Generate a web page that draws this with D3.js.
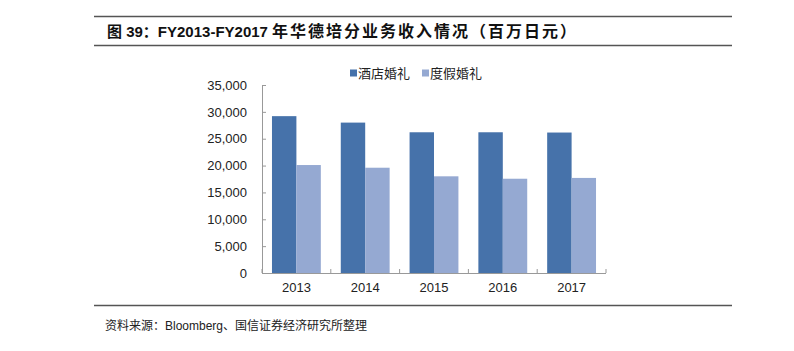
<!DOCTYPE html>
<html>
<head>
    <meta charset="utf-8">
    <title>FY2013-FY2017 年华德培分业务收入情况</title>
    <script src="https://d3js.org/d3.v7.min.js"></script>
    <style>
        body {
            margin: 0;
            background: #fff;
            font-family: "Liberation Sans", Arial, "Noto Sans CJK SC", sans-serif;
        }
        .title {
            font-size: 15px;
            font-weight: bold;
            fill: #111;
        }
        .source {
            font-size: 12px;
            fill: #222;
        }
        .axis text {
            font-size: 13px;
            fill: #222;
        }
        .axis path, .axis line {
            stroke: #999;
        }
        .legend text {
            font-size: 13px;
            fill: #222;
        }
    </style>
</head>
<body>
    <div id="chart"></div>

    <script>
        const years = ["2013", "2014", "2015", "2016", "2017"];
        const seriesNames = ["酒店婚礼", "度假婚礼"];
        const hotel = [29200, 28000, 26200, 26200, 26150];
        const resort = [20100, 19600, 18000, 17550, 17700];
        const yTicks = [0, 5000, 10000, 15000, 20000, 25000, 30000, 35000];

        const W = 794, H = 351;
        const margin = { top: 85, right: 188, bottom: 78, left: 262 },
              width = W - margin.left - margin.right,
              height = H - margin.top - margin.bottom;

        const svg = d3.select("#chart")
                      .append("svg")
                      .attr("width", W)
                      .attr("height", H);

        // header and footer rules
        const rule = (y) => svg.append("line")
            .attr("x1", 94).attr("x2", 732)
            .attr("y1", y).attr("y2", y)
            .attr("stroke", "#555").attr("stroke-width", 1.3);
        rule(16.5);
        rule(45.5);
        rule(305.5);

        const title = svg.append("text")
           .attr("class", "title")
           .attr("x", 107)
           .attr("y", 36.5);
        title.append("tspan").text("图 39：FY2013-FY2017 ");
        // the CJK part is set wider in the original
        title.append("tspan")
             .style("font-size", "16px")
             .style("letter-spacing", "2px")
             .text("年华德培分业务收入情况（百万日元）");

        svg.append("text")
           .attr("class", "source")
           .attr("x", 105)
           .attr("y", 330)
           .text("资料来源：Bloomberg、国信证券经济研究所整理");

        const g = svg.append("g")
                     .attr("transform", `translate(${margin.left},${margin.top})`);

        const color = d3.scaleOrdinal().domain(seriesNames).range(["#4672aa", "#95a9d2"]);

        const x0 = d3.scaleBand().domain(years).range([0, width]).paddingInner(0.29).paddingOuter(0.145);
        const x1 = d3.scaleBand().domain(seriesNames).range([0, x0.bandwidth()]);

        const y = d3.scaleLinear().domain([0, 35000]).range([height, 0]);

        const rows = years.map((yr, i) => ({ year: yr, values: [hotel[i], resort[i]] }));

        g.selectAll(".group")
         .data(rows)
         .enter()
         .append("g")
         .attr("transform", d => `translate(${x0(d.year)},0)`)
         .selectAll("rect")
         .data(d => d.values.map((v, j) => ({ key: seriesNames[j], value: v })))
         .enter()
         .append("rect")
         .attr("x", d => x1(d.key))
         .attr("y", d => y(d.value))
         .attr("width", x1.bandwidth())
         .attr("height", d => height - y(d.value))
         .attr("fill", d => color(d.key));

        // y axis, ticks pointing inward
        const yAxis = g.append("g")
         .attr("class", "axis")
         .call(d3.axisRight(y).tickValues(yTicks).tickSize(4).tickFormat(d3.format(",")));
        yAxis.selectAll("text").attr("x", -15).attr("text-anchor", "end");

        // x axis, ticks at category edges pointing up
        const xAxis = g.append("g")
         .attr("class", "axis")
         .attr("transform", `translate(0,${height})`)
         .call(d3.axisBottom(x0).tickSize(0).tickPadding(10));
        xAxis.selectAll("text").attr("dy", "0.71em");
        const step = width / years.length;
        xAxis.selectAll(".edge")
         .data(d3.range(years.length + 1))
         .enter()
         .append("line")
         .attr("x1", i => i * step).attr("x2", i => i * step)
         .attr("y1", 0).attr("y2", -4)
         .attr("stroke", "#999");
        xAxis.select(".domain").attr("d", `M0,0.5H${width}`);

        // legend
        const legend = svg.append("g").attr("class", "legend")
                          .attr("transform", "translate(350,73)");
        const items = legend.selectAll("g")
                            .data(seriesNames)
                            .enter()
                            .append("g")
                            .attr("transform", (d, i) => `translate(${i * 72},0)`);
        items.append("rect")
             .attr("x", 0).attr("y", -3.5)
             .attr("width", 7).attr("height", 7)
             .attr("fill", d => color(d));
        items.append("text")
             .attr("x", 8)
             .attr("dy", "0.38em")
             .text(d => d);
    </script>
</body>
</html>
